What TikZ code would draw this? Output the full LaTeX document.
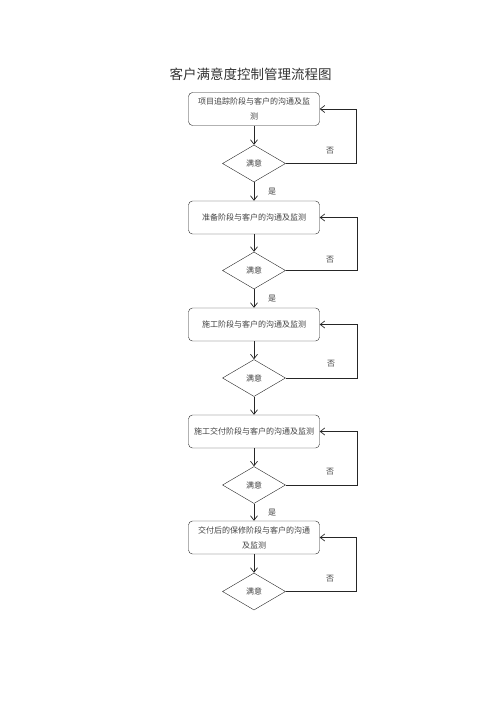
\documentclass[tikz,border=0pt]{standalone}
\usepackage{fontspec}
\setmainfont{Noto Sans CJK SC}
\usetikzlibrary{arrows,arrows.meta,positioning,shapes.geometric}

\tikzset{
  stage/.style={draw=black!85, rounded corners=4pt, minimum width=131pt, minimum height=33pt,
    align=center, text=black!75, font=\fontsize{8pt}{15pt}\selectfont},
  check/.style={draw=black!85, diamond, minimum width=63pt, minimum height=37pt, inner sep=0pt,
    text=black!75, font=\fontsize{8pt}{10pt}\selectfont},
  lbl/.style={text=black!75, font=\fontsize{8pt}{10pt}\selectfont},
  link/.style={-{Straight Barb[length=4.5pt,width=7pt]}, draw=black!85, line width=0.7pt}
}

\begin{document}
\begin{tikzpicture}[x=1pt,y=-1pt]
\useasboundingbox (0,0) rectangle (500,707);
\node[font=\fontsize{13.5pt}{16pt}\selectfont, text=black!80] (title) at (250.5,74) {客户满意度控制管理流程图};

\node[stage] (p1) at (254,109) {项目追踪阶段与客户的沟通及监\\测};
\node[check] (c1) at (254,163.5) {满意};
\node[stage] (p2) at (254,217.5) {准备阶段与客户的沟通及监测};
\node[check] (c2) at (254,270.5) {满意};
\node[stage] (p3) at (254,324.5) {施工阶段与客户的沟通及监测};
\node[check] (c3) at (254,378) {满意};
\node[stage] (p4) at (254,431.5) {施工交付阶段与客户的沟通及监测};
\node[check] (c4) at (254,485) {满意};
\node[stage] (p5) at (254,537.5) {交付后的保修阶段与客户的沟通\\及监测};
\node[check] (c5) at (254,591.5) {满意};

% down the chain
\draw[link] (p1)--(c1);
\draw[link] (c1)--(p2) node[midway,lbl,xshift=18pt] {是};
\draw[link] (p2)--(c2);
\draw[link] (c2)--(p3) node[midway,lbl,xshift=18pt] {是};
\draw[link] (p3)--(c3);
\draw[link] (c3)--(p4);
\draw[link] (p4)--(c4);
\draw[link] (c4)--(p5) node[midway,lbl,xshift=18pt] {是};
\draw[link] (p5)--(c5);

% back when not satisfied
\draw[link] (c1.east) -- ++(70.5,0) |- (p1.east);
\draw[link] (c2.east) -- ++(71.5,0) |- (p2.east);
\draw[link] (c3.east) -- ++(71.5,0) |- (p3.east);
\draw[link] (c4.east) -- ++(72,0) |- (p4.east);
\draw[link] (c5.east) -- ++(71,0) |- (p5.east);
\node[lbl] (n1) at ([shift={(76,-13)}]c1) {否};
\node[lbl] (n2) at ([shift={(76,-11)}]c2) {否};
\node[lbl] (n3) at ([shift={(77,-14)}]c3) {否};
\node[lbl] (n4) at ([shift={(76,-13)}]c4) {否};
\node[lbl] (n5) at ([shift={(76,-13)}]c5) {否};
\end{tikzpicture}
\end{document}
